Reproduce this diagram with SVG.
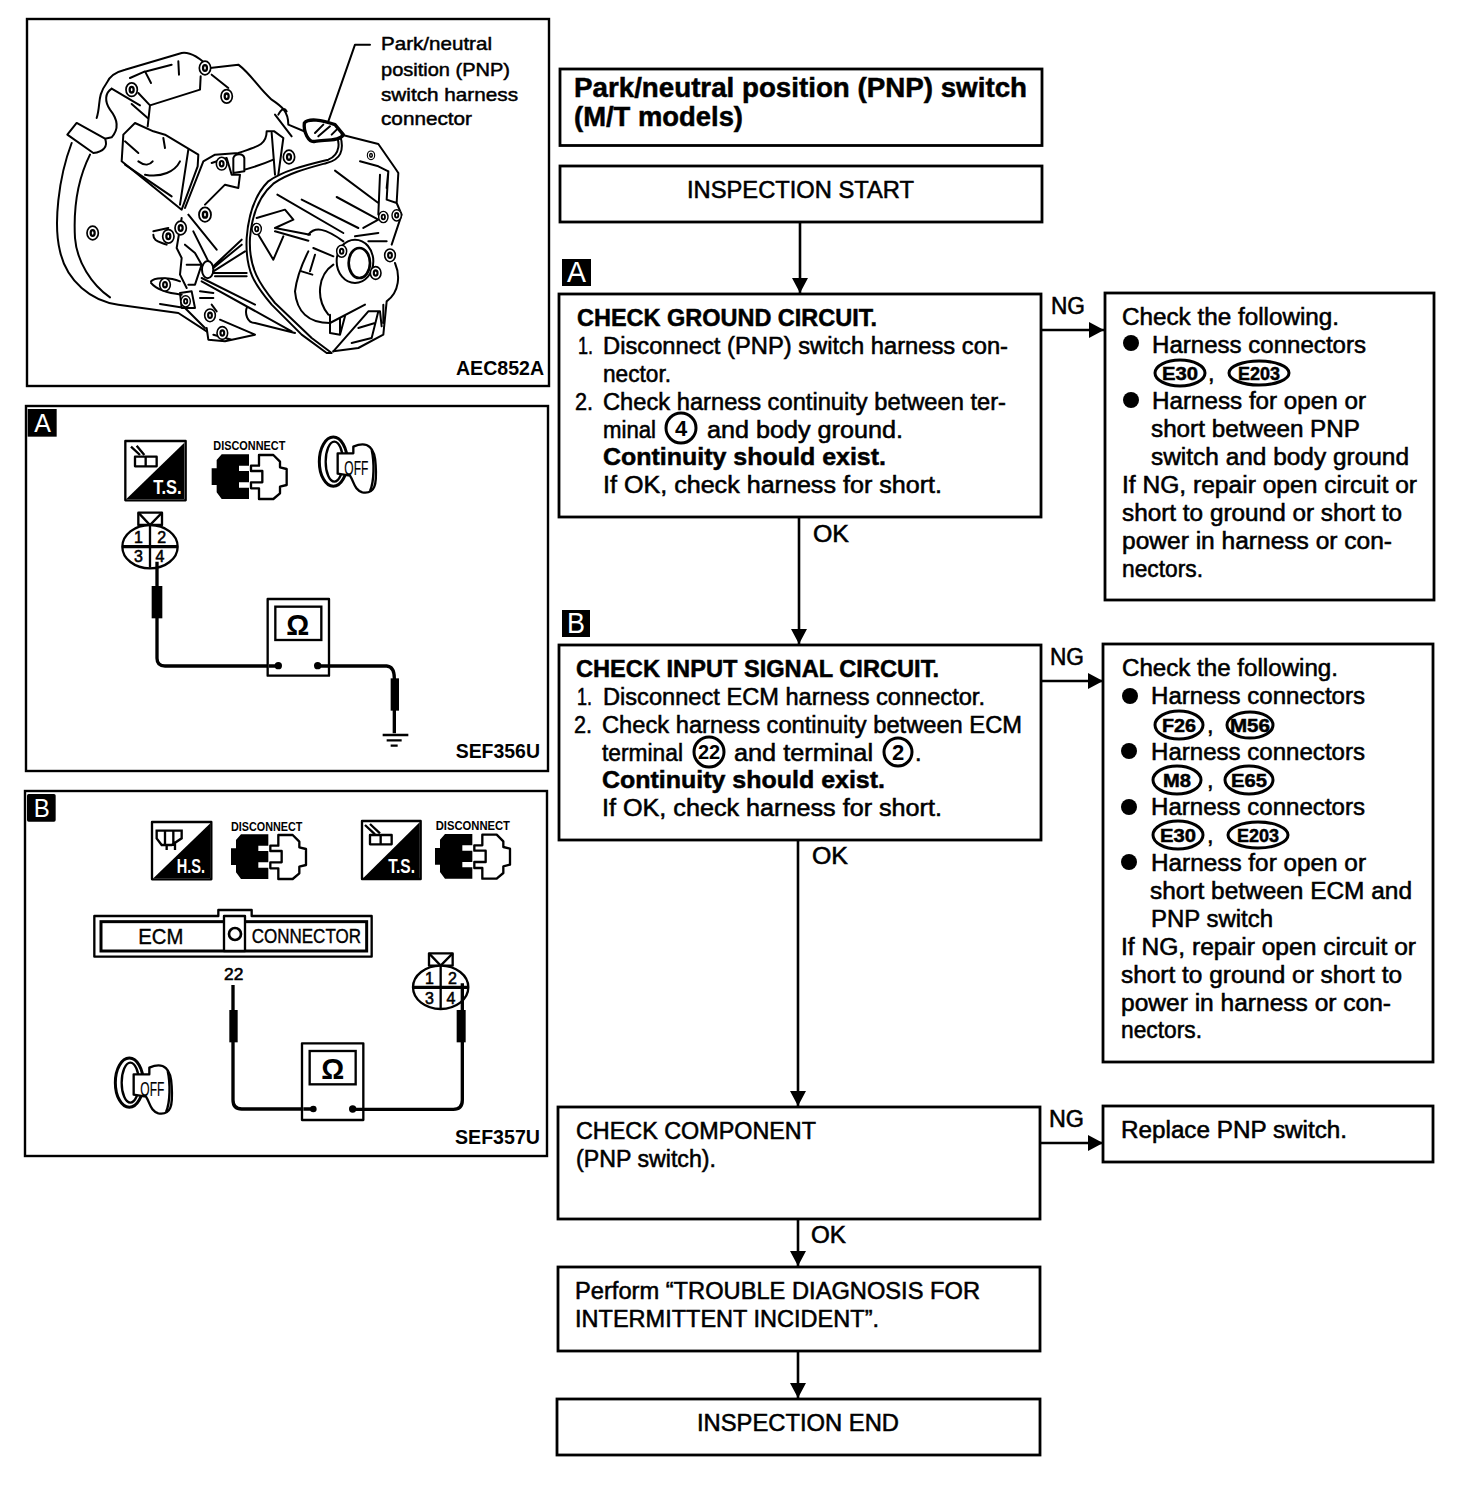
<svg xmlns="http://www.w3.org/2000/svg" xmlns:xlink="http://www.w3.org/1999/xlink" width="1472" height="1486" viewBox="0 0 1472 1486">
<style>
text{font-family:"Liberation Sans",Arial,sans-serif;fill:#000}
.t{font-size:23.5px;stroke:#000;stroke-width:.55px}
.b{font-size:24px;font-weight:700;stroke:#000;stroke-width:.5px}
.h{font-size:27px;font-weight:700;stroke:#000;stroke-width:.5px}
.o{font-size:19px;font-weight:700;stroke:#000;stroke-width:.5px}
.box{fill:#fff;stroke:#000;stroke-width:2.8}
.panel{fill:#fff;stroke:#000;stroke-width:2.4}
.wire{fill:none;stroke:#000;stroke-width:2.6}
.tag{fill:#000}
.tagt{fill:#fff;font-size:29px}
.ring{fill:#fff;stroke:#000;stroke-width:3}
.e{fill:none;stroke:#000;stroke-width:6;stroke-linecap:round;stroke-linejoin:round}
.ef{fill:#fff;stroke:#000;stroke-width:6;stroke-linejoin:round}
.bi{fill:#fff;stroke:#000;stroke-width:8}
.s{fill:none;stroke:#000;stroke-width:7}
.sf{fill:#fff;stroke:#000;stroke-width:7;stroke-linejoin:round}
.w{fill:none;stroke:#000;stroke-width:10}
.k{fill:#000}
.dis{font-size:37px;font-weight:700}
.off{font-size:60px;stroke:#000;stroke-width:.5px}
.num{font-size:48px;stroke:#000;stroke-width:1.6px}
.pan{font-size:19px;stroke:#000;stroke-width:.5px}
</style>
<defs>
<marker id="ah" markerUnits="userSpaceOnUse" markerWidth="16" markerHeight="16" refX="15" refY="8" orient="auto"><path d="M0,0 L15,8 L0,16Z" fill="#000"/></marker>
<g id="plug">
<path class="k" d="M590,148H672V182H642V198H672V232H642V248H672V282H590L575,262V240H560V190H575V165Z"/>
<path class="sf" d="M702,150H745L765,170V187L785,192V240L765,245V265L745,282H702V250H678V232H712V198H678V182H702Z"/>
</g>
<g id="key">
<ellipse class="s" cx="925" cy="170" rx="42" ry="74" style="stroke-width:9"/>
<ellipse class="s" cx="928" cy="170" rx="26" ry="60"/>
<path class="sf" d="M985,125C1030,105 1050,130 1052,180C1056,240 1050,268 1012,262C988,255 988,232 975,212L938,206V145L985,145Z"/>
<path class="s" d="M1040,135C1048,170 1048,230 1035,258"/>
</g>
<g id="bolt">
<ellipse class="ef" cx="0" cy="0" rx="20" ry="24"/>
<ellipse class="bi" cx="0" cy="0" rx="7" ry="10"/>
</g>
<g id="meter">
<rect class="sf" x="0" y="0" width="184" height="230"/>
<rect class="s" x="23" y="23" width="138" height="100"/>
</g>
<g id="pin4">
<rect class="sf" x="-35" y="-102" width="71" height="37"/>
<path class="s" d="M-35,-102L0,-65L36,-102"/>
<ellipse class="sf" cx="0" cy="0" rx="83" ry="65"/>
<path class="w" d="M-83,0H83"/>
<path class="s" d="M0,-65V63"/>
</g>
</defs>
<rect width="1472" height="1486" fill="#fff"/>

<g id="connectors">
<path class="wire" d="M800,222V293" marker-end="url(#ah)"/>
<path class="wire" d="M799,517V644" marker-end="url(#ah)"/>
<path class="wire" d="M798,840V1106" marker-end="url(#ah)"/>
<path class="wire" d="M798,1219V1266" marker-end="url(#ah)"/>
<path class="wire" d="M798,1351V1398" marker-end="url(#ah)"/>
<path class="wire" d="M1041,330H1104" marker-end="url(#ah)"/>
<path class="wire" d="M1041,681H1103" marker-end="url(#ah)"/>
<path class="wire" d="M1041,1143H1103" marker-end="url(#ah)"/>
<text class="t" x="813" y="542" textLength="36" lengthAdjust="spacingAndGlyphs">OK</text>
<text class="t" x="812" y="864" textLength="36" lengthAdjust="spacingAndGlyphs">OK</text>
<text class="t" x="811" y="1243" textLength="35" lengthAdjust="spacingAndGlyphs">OK</text>
<text class="t" x="1051" y="314" textLength="34" lengthAdjust="spacingAndGlyphs">NG</text>
<text class="t" x="1050" y="665" textLength="34" lengthAdjust="spacingAndGlyphs">NG</text>
<text class="t" x="1049" y="1127" textLength="35" lengthAdjust="spacingAndGlyphs">NG</text>
</g>

<g id="node-title">
<rect class="box" x="560" y="69" width="482" height="76.500"/>
<text class="h" x="574" y="97" textLength="453" lengthAdjust="spacingAndGlyphs">Park/neutral position (PNP) switch</text>
<text class="h" x="574" y="126" textLength="169" lengthAdjust="spacingAndGlyphs">(M/T models)</text>
</g>
<g id="node-start">
<rect class="box" x="560" y="166" width="482" height="56"/>
<text class="t" x="687" y="198" textLength="227" lengthAdjust="spacingAndGlyphs">INSPECTION START</text>
</g>
<g id="node-a">
<rect class="tag" x="562" y="259" width="29" height="27"/>
<text class="tagt" x="567" y="282" textLength="19" lengthAdjust="spacingAndGlyphs">A</text>
<rect class="box" x="559" y="294" width="482" height="223"/>
<text class="b" x="577" y="326" textLength="300" lengthAdjust="spacingAndGlyphs">CHECK GROUND CIRCUIT.</text>
<text class="t" x="578" y="354" textLength="15" lengthAdjust="spacingAndGlyphs">1.</text>
<text class="t" x="603" y="354" textLength="405" lengthAdjust="spacingAndGlyphs">Disconnect (PNP) switch harness con-</text>
<text class="t" x="603" y="382" textLength="68" lengthAdjust="spacingAndGlyphs">nector.</text>
<text class="t" x="575" y="410" textLength="18" lengthAdjust="spacingAndGlyphs">2.</text>
<text class="t" x="603" y="410" textLength="403" lengthAdjust="spacingAndGlyphs">Check harness continuity between ter-</text>
<text class="t" x="603" y="438" textLength="53" lengthAdjust="spacingAndGlyphs">minal</text>
<circle class="ring" cx="681" cy="428" r="15"/>
<text x="681" y="436" text-anchor="middle" font-size="22" font-weight="700">4</text>
<text class="t" x="707" y="438" textLength="196" lengthAdjust="spacingAndGlyphs">and body ground.</text>
<text class="b" x="603" y="465" textLength="283" lengthAdjust="spacingAndGlyphs">Continuity should exist.</text>
<text class="t" x="603" y="493" textLength="339" lengthAdjust="spacingAndGlyphs">If OK, check harness for short.</text>
</g>
<g id="node-a-ng">
<rect class="box" x="1105" y="293" width="329" height="307"/>
<text class="t" x="1122" y="325" textLength="217" lengthAdjust="spacingAndGlyphs">Check the following.</text>
<circle class="k" cx="1131" cy="343" r="8"/>
<text class="t" x="1152" y="353" textLength="214" lengthAdjust="spacingAndGlyphs">Harness connectors</text>
<ellipse class="ring" cx="1180" cy="373" rx="25" ry="13"/>
<text class="o" x="1180" y="380" text-anchor="middle" textLength="36" lengthAdjust="spacingAndGlyphs">E30</text>
<text class="t" x="1208" y="381">,</text>
<ellipse class="ring" cx="1259" cy="373" rx="30" ry="12"/>
<text class="o" x="1259" y="380" text-anchor="middle" textLength="42" lengthAdjust="spacingAndGlyphs">E203</text>
<circle class="k" cx="1131" cy="400" r="8"/>
<text class="t" x="1152" y="409" textLength="214" lengthAdjust="spacingAndGlyphs">Harness for open or</text>
<text class="t" x="1151" y="437" textLength="209" lengthAdjust="spacingAndGlyphs">short between PNP</text>
<text class="t" x="1151" y="465" textLength="258" lengthAdjust="spacingAndGlyphs">switch and body ground</text>
<text class="t" x="1122" y="493" textLength="295" lengthAdjust="spacingAndGlyphs">If NG, repair open circuit or</text>
<text class="t" x="1122" y="521" textLength="280" lengthAdjust="spacingAndGlyphs">short to ground or short to</text>
<text class="t" x="1122" y="549" textLength="270" lengthAdjust="spacingAndGlyphs">power in harness or con-</text>
<text class="t" x="1122" y="577" textLength="81" lengthAdjust="spacingAndGlyphs">nectors.</text>
</g>
<g id="node-b">
<rect class="tag" x="562" y="610" width="28" height="27"/>
<text class="tagt" x="567" y="633" textLength="18" lengthAdjust="spacingAndGlyphs">B</text>
<rect class="box" x="559" y="645" width="482" height="195"/>
<text class="b" x="576" y="677" textLength="363" lengthAdjust="spacingAndGlyphs">CHECK INPUT SIGNAL CIRCUIT.</text>
<text class="t" x="577" y="705" textLength="15" lengthAdjust="spacingAndGlyphs">1.</text>
<text class="t" x="603" y="705" textLength="382" lengthAdjust="spacingAndGlyphs">Disconnect ECM harness connector.</text>
<text class="t" x="574" y="733" textLength="18" lengthAdjust="spacingAndGlyphs">2.</text>
<text class="t" x="602" y="733" textLength="420" lengthAdjust="spacingAndGlyphs">Check harness continuity between ECM</text>
<text class="t" x="602" y="761" textLength="81" lengthAdjust="spacingAndGlyphs">terminal</text>
<circle class="ring" cx="709" cy="752" r="15"/>
<text x="709" y="759" text-anchor="middle" font-size="20" font-weight="700">22</text>
<text class="t" x="734" y="761" textLength="139" lengthAdjust="spacingAndGlyphs">and terminal</text>
<circle class="ring" cx="898" cy="752" r="14"/>
<text x="898" y="760" text-anchor="middle" font-size="22" font-weight="700">2</text>
<text class="t" x="915" y="761">.</text>
<text class="b" x="602" y="788" textLength="283" lengthAdjust="spacingAndGlyphs">Continuity should exist.</text>
<text class="t" x="602" y="816" textLength="340" lengthAdjust="spacingAndGlyphs">If OK, check harness for short.</text>
</g>
<g id="node-b-ng">
<rect class="box" x="1103" y="644" width="330" height="418"/>
<text class="t" x="1122" y="676" textLength="216" lengthAdjust="spacingAndGlyphs">Check the following.</text>
<circle class="k" cx="1130" cy="696" r="8"/>
<text class="t" x="1151" y="704" textLength="214" lengthAdjust="spacingAndGlyphs">Harness connectors</text>
<ellipse class="ring" cx="1179" cy="725" rx="24" ry="14"/>
<text class="o" x="1179" y="732" text-anchor="middle" textLength="34" lengthAdjust="spacingAndGlyphs">F26</text>
<text class="t" x="1207" y="733">,</text>
<ellipse class="ring" cx="1250" cy="725" rx="23" ry="13"/>
<text class="o" x="1250" y="732" text-anchor="middle" textLength="40" lengthAdjust="spacingAndGlyphs">M56</text>
<circle class="k" cx="1129" cy="751" r="8"/>
<text class="t" x="1151" y="760" textLength="214" lengthAdjust="spacingAndGlyphs">Harness connectors</text>
<ellipse class="ring" cx="1177" cy="780" rx="24" ry="14"/>
<text class="o" x="1177" y="787" text-anchor="middle" textLength="28" lengthAdjust="spacingAndGlyphs">M8</text>
<text class="t" x="1207" y="788">,</text>
<ellipse class="ring" cx="1249" cy="780" rx="24" ry="14"/>
<text class="o" x="1249" y="787" text-anchor="middle" textLength="36" lengthAdjust="spacingAndGlyphs">E65</text>
<circle class="k" cx="1129" cy="807" r="8"/>
<text class="t" x="1151" y="815" textLength="214" lengthAdjust="spacingAndGlyphs">Harness connectors</text>
<ellipse class="ring" cx="1178" cy="835" rx="25" ry="14"/>
<text class="o" x="1178" y="842" text-anchor="middle" textLength="36" lengthAdjust="spacingAndGlyphs">E30</text>
<text class="t" x="1207" y="843">,</text>
<ellipse class="ring" cx="1258" cy="835" rx="30" ry="13"/>
<text class="o" x="1258" y="842" text-anchor="middle" textLength="42" lengthAdjust="spacingAndGlyphs">E203</text>
<circle class="k" cx="1129" cy="862" r="8"/>
<text class="t" x="1151" y="871" textLength="215" lengthAdjust="spacingAndGlyphs">Harness for open or</text>
<text class="t" x="1150" y="899" textLength="262" lengthAdjust="spacingAndGlyphs">short between ECM and</text>
<text class="t" x="1151" y="927" textLength="122" lengthAdjust="spacingAndGlyphs">PNP switch</text>
<text class="t" x="1121" y="955" textLength="295" lengthAdjust="spacingAndGlyphs">If NG, repair open circuit or</text>
<text class="t" x="1121" y="983" textLength="281" lengthAdjust="spacingAndGlyphs">short to ground or short to</text>
<text class="t" x="1121" y="1011" textLength="270" lengthAdjust="spacingAndGlyphs">power in harness or con-</text>
<text class="t" x="1121" y="1038" textLength="81" lengthAdjust="spacingAndGlyphs">nectors.</text>
</g>
<g id="node-component">
<rect class="box" x="558" y="1107" width="482" height="112"/>
<text class="t" x="576" y="1139" textLength="240" lengthAdjust="spacingAndGlyphs">CHECK COMPONENT</text>
<text class="t" x="576" y="1167" textLength="140" lengthAdjust="spacingAndGlyphs">(PNP switch).</text>
</g>
<g id="node-replace">
<rect class="box" x="1103" y="1106" width="330" height="56"/>
<text class="t" x="1121" y="1138" textLength="226" lengthAdjust="spacingAndGlyphs">Replace PNP switch.</text>
</g>
<g id="node-perform">
<rect class="box" x="558" y="1267" width="482" height="84"/>
<text class="t" x="575" y="1299" textLength="405" lengthAdjust="spacingAndGlyphs">Perform “TROUBLE DIAGNOSIS FOR</text>
<text class="t" x="575" y="1327" textLength="304" lengthAdjust="spacingAndGlyphs">INTERMITTENT INCIDENT”.</text>
</g>
<g id="node-end">
<rect class="box" x="557" y="1399" width="483" height="56"/>
<text class="t" x="697" y="1431" textLength="202" lengthAdjust="spacingAndGlyphs">INSPECTION END</text>
</g>

<g id="panel-engine">
<rect class="panel" x="27" y="19" width="522" height="367"/>
<g transform="translate(25 18) scale(.33333)">
<path class="e" d="M1035,80H990L910,310"/>
<path class="e" d="M215,300C228,260 215,235 245,195C255,170 280,160 300,155L470,105C500,100 530,125 555,150L640,140C680,170 700,210 740,245C770,265 790,280 790,320L850,345"/>
<path class="e" d="M315,180L360,160L378,195M365,160L440,140M460,130L462,170"/>
<path class="e" d="M340,225L375,262L525,215L527,175M560,170L610,210M375,262L368,325"/>
<path class="e" d="M260,212L345,262M320,258L368,300M260,212C240,225 238,250 255,275C275,300 285,330 260,358L240,362"/>
<path class="ef" d="M127,350L155,315L240,362C250,385 235,402 205,405Z"/>
<path class="e" d="M140,375C100,480 85,620 105,700C125,790 200,850 280,860L460,885L545,940"/>
<path class="e" d="M195,410C160,480 145,570 150,660C155,730 200,800 255,838"/>
<path class="e" d="M295,350L330,315L385,340L420,350L520,410L518,445L470,575L290,430Z"/>
<path class="e" d="M300,440L440,535M300,370L340,405M415,360L420,390M340,430C360,445 375,440 383,430M360,470C410,480 450,460 465,430M490,395L465,560"/>
<path class="e" d="M750,290L800,355M760,290C770,270 780,270 785,280"/>
<path class="e" d="M725,340L748,340L775,360L760,470M740,345L750,470M725,340C725,380 700,385 640,405L570,410L535,430L480,570"/>
<path class="e" d="M640,460C680,450 700,445 745,425M560,435L605,420L620,470L645,470L640,510L600,500L540,560"/>
<path class="ef" d="M625,420C630,405 655,405 658,420V460L625,465Z"/>
<path class="e" d="M490,590L575,695M470,600L455,690L470,720L465,770L485,810M505,640L550,730M480,680L510,705L530,740L510,740M485,740H530L510,800H490"/>
<path class="e" d="M385,640L430,630M385,650C385,670 400,670 425,680"/>
<path class="e" d="M378,790C385,780 430,775 465,790M378,795C390,810 420,825 470,830"/>
<path class="e" d="M465,825L500,820L510,870L470,870ZM525,820L565,825M525,840L565,840M560,860L575,880M405,858L480,870L540,930"/>
<path class="e" d="M545,930L550,965L600,970L690,950L585,905M565,950L620,965"/>
<ellipse class="ef" cx="548" cy="755" rx="17" ry="26"/>
<path class="e" d="M565,745L650,665M565,750L650,680M565,760L660,700M565,765H665M570,775H665M530,780L690,860M530,790L800,940M665,870C660,885 665,915 690,915L810,945"/>
<path class="ef" d="M925,340C950,370 945,410 910,425C850,440 780,455 730,490C690,530 670,590 665,660C660,760 690,800 740,860L830,950L905,1005L920,1005L860,960L750,855C705,800 670,750 675,660C680,600 700,535 745,497C790,465 850,450 905,435C945,425 960,400 945,350Z"/>
<path class="ef" d="M838,315C850,300 890,305 930,320L955,350C945,370 900,365 870,370C850,375 835,340 838,315Z" style="stroke-width:10"/>
<path class="e" d="M870,345L895,320M880,355L915,325M920,350L935,335"/>
<path class="e" d="M950,350L1060,378L1110,450L1120,465L1115,555L1130,590L1100,680M1005,430L1060,445L1090,460L1085,545L1115,555M1085,510L1090,460M1065,470L1060,590M930,458L1060,555M935,537L1060,605L1015,630M830,545L1000,630M757,530L955,645"/>
<path class="e" d="M695,600L780,575L805,605L750,630L855,650M750,640L850,668M700,650L745,725L775,655"/>
<path class="e" d="M850,650C870,625 900,630 955,670M865,690L925,715M850,700C830,740 815,780 810,820C815,880 850,915 915,915L1020,860M830,760L862,770M870,710L855,760M925,740C880,770 870,840 910,890"/>
<path class="e" d="M990,655L1060,645M1030,670L1085,670M1110,735C1125,770 1125,820 1085,850L1075,950L1000,990L925,1000"/>
<path class="e" d="M915,890V945L945,950L960,895M945,900V950M925,1000L1030,880H1065L1070,925M1060,880L1040,960L980,975M1075,860V915M1000,930L1050,915"/>
<ellipse class="ef" cx="990" cy="730" rx="55" ry="65"/>
<ellipse class="ef" cx="1003" cy="735" rx="32" ry="45" style="stroke-width:8"/>
<use xlink:href="#bolt" href="#bolt" transform="translate(320 215) scale(.85)"/>
<use xlink:href="#bolt" href="#bolt" transform="translate(540 150) scale(.85)"/>
<use xlink:href="#bolt" href="#bolt" transform="translate(605 235) scale(.85)"/>
<use xlink:href="#bolt" href="#bolt" transform="translate(540 590) scale(.9)"/>
<use xlink:href="#bolt" href="#bolt" transform="translate(430 655) scale(.85)"/>
<use xlink:href="#bolt" href="#bolt" transform="translate(467 630) scale(.85)"/>
<use xlink:href="#bolt" href="#bolt" transform="translate(203 645) scale(.85)"/>
<use xlink:href="#bolt" href="#bolt" transform="translate(420 800) scale(.8)"/>
<use xlink:href="#bolt" href="#bolt" transform="translate(482 850) scale(.7)"/>
<use xlink:href="#bolt" href="#bolt" transform="translate(555 892) scale(.8)"/>
<use xlink:href="#bolt" href="#bolt" transform="translate(592 945) scale(.8)"/>
<use xlink:href="#bolt" href="#bolt" transform="translate(695 633) scale(.7)"/>
<use xlink:href="#bolt" href="#bolt" transform="translate(792 417) scale(.85)"/>
<use xlink:href="#bolt" href="#bolt" transform="translate(950 700) scale(.75)"/>
<use xlink:href="#bolt" href="#bolt" transform="translate(1095 712) scale(.8)"/>
<use xlink:href="#bolt" href="#bolt" transform="translate(1115 592) scale(.7)"/>
<use xlink:href="#bolt" href="#bolt" transform="translate(1075 597) scale(.7)"/>
<use xlink:href="#bolt" href="#bolt" transform="translate(1052 765) scale(.8)"/>
<use xlink:href="#bolt" href="#bolt" transform="translate(1038 412) scale(.55)"/>
<use xlink:href="#bolt" href="#bolt" transform="translate(590 437) scale(.8)"/>
</g>
<text class="pan" x="381" y="50" textLength="111" lengthAdjust="spacingAndGlyphs">Park/neutral</text>
<text class="pan" x="381" y="76" textLength="129" lengthAdjust="spacingAndGlyphs">position (PNP)</text>
<text class="pan" x="381" y="101" textLength="137" lengthAdjust="spacingAndGlyphs">switch harness</text>
<text class="pan" x="381" y="125" textLength="91" lengthAdjust="spacingAndGlyphs">connector</text>
<text x="456" y="375" font-size="20" font-weight="700" textLength="88" lengthAdjust="spacingAndGlyphs">AEC852A</text>
</g>

<g id="panel-a">
<rect class="panel" x="26" y="406" width="522" height="365"/>
<g transform="translate(25 405) scale(.33333)">
<rect class="k" x="8" y="12" width="87" height="83"/>
<text x="28" y="80" style="fill:#fff" font-size="78" textLength="50" lengthAdjust="spacingAndGlyphs">A</text>
<rect class="sf" x="301" y="108" width="181" height="178"/>
<path class="k" d="M478,113V282H304Z"/>
<path class="sf" d="M330,155H395V184H330Z"/>
<path class="s" d="M362,155V184M318,125L345,150M335,122L358,150"/>
<text x="385" y="266" style="fill:#fff" font-size="58" font-weight="700" textLength="85" lengthAdjust="spacingAndGlyphs">T.S.</text>
<text class="dis" x="565" y="136" textLength="216" lengthAdjust="spacingAndGlyphs">DISCONNECT</text>
<use xlink:href="#plug" href="#plug"/>
<use xlink:href="#key" href="#key"/>
<text class="off" x="958" y="210" textLength="72" lengthAdjust="spacingAndGlyphs">OFF</text>
<use xlink:href="#pin4" href="#pin4" transform="translate(375 425)"/>
<text class="num" x="340" y="414" text-anchor="middle">1</text>
<text class="num" x="410" y="414" text-anchor="middle">2</text>
<text class="num" x="340" y="472" text-anchor="middle">3</text>
<text class="num" x="405" y="472" text-anchor="middle">4</text>
<path class="w" d="M396,470V760Q396,783 420,783H760"/>
<rect class="k" x="380" y="543" width="32" height="97"/>
<use xlink:href="#meter" href="#meter" transform="translate(728 582)"/>
<text x="818" y="690" text-anchor="middle" font-size="86" font-weight="700">Ω</text>
<path class="w" d="M732,783H760M878,783H1085Q1108,785 1108,820V985"/>
<circle class="k" cx="760" cy="782" r="11"/>
<circle class="k" cx="878" cy="782" r="11"/>
<rect class="k" x="1097" y="820" width="25" height="97"/>
<path class="s" d="M1073,990H1150M1085,1006H1130M1097,1022H1118"/>
<text x="1292" y="1060" font-size="60" font-weight="700" textLength="253" lengthAdjust="spacingAndGlyphs">SEF356U</text>
</g>
</g>

<g id="panel-b">
<rect class="panel" x="25" y="791" width="522" height="365"/>
<g transform="translate(25 790) scale(.33333)">
<rect class="k" x="6" y="12" width="86" height="83" rx="5"/>
<text x="26" y="80" style="fill:#fff" font-size="78" textLength="48" lengthAdjust="spacingAndGlyphs">B</text>
<rect class="sf" x="381" y="96" width="178" height="172"/>
<path class="k" d="M556,100V265H385Z"/>
<path class="s" d="M395,122H470V145L440,165H410L395,145ZM420,122V165M445,122V165M425,165V180M450,160V180"/>
<text x="455" y="250" style="fill:#fff" font-size="58" font-weight="700" textLength="85" lengthAdjust="spacingAndGlyphs">H.S.</text>
<text class="dis" x="618" y="122" textLength="214" lengthAdjust="spacingAndGlyphs">DISCONNECT</text>
<use xlink:href="#plug" href="#plug" transform="translate(58 -15)"/>
<rect class="sf" x="1011" y="93" width="176" height="174"/>
<path class="k" d="M1184,97V264H1015Z"/>
<path class="sf" d="M1035,135H1100V163H1035Z"/>
<path class="s" d="M1067,135V163M1020,105L1050,133M1035,102L1065,130"/>
<text x="1090" y="250" style="fill:#fff" font-size="58" font-weight="700" textLength="80" lengthAdjust="spacingAndGlyphs">T.S.</text>
<text class="dis" x="1232" y="120" textLength="223" lengthAdjust="spacingAndGlyphs">DISCONNECT</text>
<use xlink:href="#plug" href="#plug" transform="translate(670 -16)"/>
<path class="sf" d="M208,378H580V360H680V378H1040V500H208Z"/>
<rect class="s" x="228" y="395" width="797" height="88" style="stroke-width:9"/>
<rect class="sf" x="597" y="378" width="63" height="105"/>
<circle class="s" cx="630" cy="432" r="18" style="stroke-width:8"/>
<text x="340" y="463" font-size="66" stroke="#000" stroke-width="1.2" textLength="135" lengthAdjust="spacingAndGlyphs">ECM</text>
<text x="680" y="460" font-size="62" stroke="#000" stroke-width="1.2" textLength="328" lengthAdjust="spacingAndGlyphs">CONNECTOR</text>
<text class="num" x="597" y="570" textLength="58" lengthAdjust="spacingAndGlyphs">22</text>
<use xlink:href="#key" href="#key" transform="translate(-612 708)"/>
<text class="off" x="346" y="918" textLength="72" lengthAdjust="spacingAndGlyphs">OFF</text>
<use xlink:href="#pin4" href="#pin4" transform="translate(1247 592)"/>
<text class="num" x="1213" y="582" text-anchor="middle">1</text>
<text class="num" x="1282" y="582" text-anchor="middle">2</text>
<text class="num" x="1213" y="641" text-anchor="middle">3</text>
<text class="num" x="1278" y="641" text-anchor="middle">4</text>
<path class="w" d="M624,585V930Q624,957 650,957H865"/>
<rect class="k" x="613" y="660" width="25" height="97"/>
<use xlink:href="#meter" href="#meter" transform="translate(831 760)"/>
<text x="923" y="866" text-anchor="middle" font-size="86" font-weight="700">Ω</text>
<path class="w" d="M835,957H865M983,958H1285Q1312,958 1312,930V580"/>
<circle class="k" cx="865" cy="957" r="10"/>
<circle class="k" cx="983" cy="957" r="11"/>
<rect class="k" x="1295" y="660" width="27" height="97"/>
<text x="1290" y="1062" font-size="60" font-weight="700" textLength="255" lengthAdjust="spacingAndGlyphs">SEF357U</text>
</g>
</g>
</svg>
